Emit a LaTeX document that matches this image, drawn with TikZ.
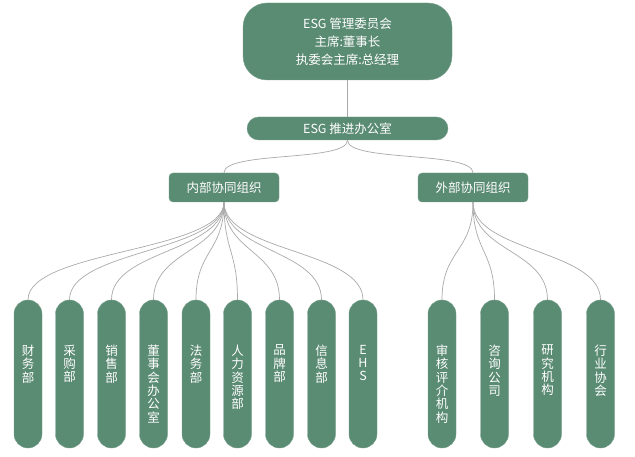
\documentclass[tikz,border=0pt]{standalone}
\usepackage{fontspec}
\setmainfont{Noto Sans CJK SC}
\usepackage{tikz}
\usetikzlibrary{positioning,calc}
\definecolor{esggreen}{HTML}{5A8B73}
\definecolor{linkgray}{HTML}{A9A9A9}

\begin{document}
\begin{tikzpicture}[
    x=1pt, y=-1pt,
    board/.style={rectangle, fill=esggreen, draw=esggreen!80!white, text=white, minimum width=209pt, minimum height=77pt, rounded corners=24pt, align=center, font=\fontsize{12.5}{18}\selectfont},
    office/.style={rectangle, fill=esggreen, draw=esggreen!80!white, text=white, minimum width=201pt, minimum height=23pt, rounded corners=11.5pt, font=\fontsize{12.5}{14}\selectfont},
    group/.style={rectangle, fill=esggreen, draw=esggreen!80!white, text=white, minimum width=110pt, minimum height=29pt, rounded corners=4pt, font=\fontsize{12.5}{14}\selectfont},
    leaf/.style={rectangle, fill=esggreen, draw=esggreen!80!white, minimum width=28pt, minimum height=148pt, rounded corners=13.9pt, inner sep=0pt},
    ltxt/.style={text=white, align=center, anchor=north, yshift=-45pt, inner sep=0pt, font=\fontsize{12.5}{13.3}\selectfont},
    link/.style={draw=linkgray, line width=0.7pt}
]
    \useasboundingbox (0,0) rectangle (635,457);

    % Committee
    \node[board] (board) at (347.5,41.5) {ESG 管理委员会\\主席:董事长\\执委会主席:总经理};
    \node[office] (office) at (347.5,128.5) {ESG 推进办公室};

    % Groups
    \node[group] (inner) at (224,187.5) {内部协同组织};
    \node[group] (outer) at (473,187.5) {外部协同组织};

    % Internal departments
    \node[leaf, label={[ltxt]north:财\\务\\部}] (finance) at (28,374) {};
    \node[leaf, label={[ltxt]north:采\\购\\部}] (purchase) at (69.5,374) {};
    \node[leaf, label={[ltxt]north:销\\售\\部}] (sales) at (111.5,374) {};
    \node[leaf, label={[ltxt]north:董\\事\\会\\办\\公\\室}] (boardoffice) at (153.5,374) {};
    \node[leaf, label={[ltxt]north:法\\务\\部}] (legal) at (196,374) {};
    \node[leaf, label={[ltxt]north:人\\力\\资\\源\\部}] (hr) at (237.5,374) {};
    \node[leaf, label={[ltxt]north:品\\牌\\部}] (brand) at (279.5,374) {};
    \node[leaf, label={[ltxt]north:信\\息\\部}] (info) at (321.5,374) {};
    \node[leaf, label={[ltxt]north:E\\H\\S}] (ehs) at (363,374) {};

    % External partners
    \node[leaf, label={[ltxt]north:审\\核\\评\\介\\机\\构}] (audit) at (442,374) {};
    \node[leaf, label={[ltxt]north:咨\\询\\公\\司}] (consult) at (494.5,374) {};
    \node[leaf, label={[ltxt]north:研\\究\\机\\构}] (research) at (547.5,374) {};
    \node[leaf, label={[ltxt]north:行\\业\\协\\会}] (assoc) at (600.5,374) {};

    % Links
    \draw[link] (board.south) .. controls +(0,20) and +(0,-20) .. (office.north);
    \draw[link] (office.south) .. controls +(0,22) and +(0,-22) .. (inner.north);
    \draw[link] (office.south) .. controls +(0,22) and +(0,-22) .. (outer.north);

    \draw[link] (inner.south) .. controls +(0,50) and +(0,-50) .. (finance.north);
    \draw[link] (inner.south) .. controls +(0,50) and +(0,-50) .. (purchase.north);
    \draw[link] (inner.south) .. controls +(0,50) and +(0,-50) .. (sales.north);
    \draw[link] (inner.south) .. controls +(0,50) and +(0,-50) .. (boardoffice.north);
    \draw[link] (inner.south) .. controls +(0,50) and +(0,-50) .. (legal.north);
    \draw[link] (inner.south) .. controls +(0,50) and +(0,-50) .. (hr.north);
    \draw[link] (inner.south) .. controls +(0,50) and +(0,-50) .. (brand.north);
    \draw[link] (inner.south) .. controls +(0,50) and +(0,-50) .. (info.north);
    \draw[link] (inner.south) .. controls +(0,50) and +(0,-50) .. (ehs.north);

    \draw[link] (outer.south) .. controls +(0,50) and +(0,-50) .. (audit.north);
    \draw[link] (outer.south) .. controls +(0,50) and +(0,-50) .. (consult.north);
    \draw[link] (outer.south) .. controls +(0,50) and +(0,-50) .. (research.north);
    \draw[link] (outer.south) .. controls +(0,50) and +(0,-50) .. (assoc.north);
\end{tikzpicture}
\end{document}
